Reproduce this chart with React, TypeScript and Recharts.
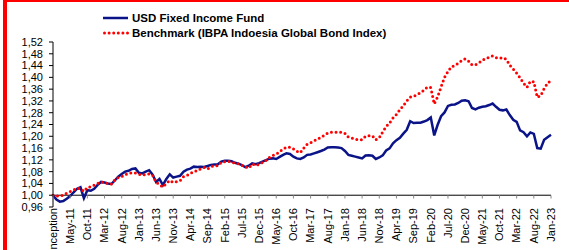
import { LineChart, Line, XAxis, YAxis, ReferenceLine } from "recharts";

const tickLabels = [
  "Inception", "May-11", "Oct-11", "Mar-12", "Aug-12", "Jan-13", "Jun-13", "Nov-13",
  "Apr-14", "Sep-14", "Feb-15", "Jul-15", "Dec-15", "May-16", "Oct-16", "Mar-17",
  "Aug-17", "Jan-18", "Jun-18", "Nov-18", "Apr-19", "Sep-19", "Feb-20", "Jul-20",
  "Dec-20", "May-21", "Oct-21", "Mar-22", "Aug-22", "Jan-23",
];

const yTicks = [0.96, 1.0, 1.04, 1.08, 1.12, 1.16, 1.2, 1.24, 1.28, 1.32, 1.36, 1.4, 1.44, 1.48, 1.52];

// monthly values, Dec-10 .. Jan-23
const fund = [
  1.0, 0.985, 0.978, 0.98, 0.988, 0.997, 1.01, 1.022, 1.027, 0.99,
  1.017, 1.015, 1.022, 1.035, 1.045, 1.043, 1.04, 1.038, 1.05, 1.063,
  1.072, 1.08, 1.083, 1.089, 1.091, 1.076, 1.074, 1.08, 1.085, 1.07,
  1.045, 1.055, 1.034, 1.055, 1.071, 1.06, 1.063, 1.066, 1.08, 1.087,
  1.09, 1.097, 1.096, 1.097, 1.096, 1.099, 1.103, 1.104, 1.105, 1.114,
  1.117, 1.117, 1.115, 1.11, 1.107, 1.102, 1.095, 1.1, 1.108, 1.105,
  1.109, 1.114, 1.119, 1.124, 1.125, 1.123, 1.13, 1.137, 1.142, 1.14,
  1.131, 1.125, 1.123, 1.128, 1.137, 1.138, 1.142, 1.146, 1.15, 1.155,
  1.162, 1.163, 1.163, 1.162, 1.16, 1.15, 1.137, 1.134, 1.131, 1.128,
  1.125, 1.135, 1.136, 1.134, 1.123, 1.128, 1.135, 1.152, 1.159, 1.176,
  1.187, 1.195, 1.209, 1.222, 1.251, 1.245, 1.246, 1.246, 1.25, 1.255,
  1.264, 1.203, 1.239, 1.268, 1.281, 1.303, 1.307, 1.308, 1.313, 1.321,
  1.322, 1.319, 1.296, 1.291, 1.297, 1.3, 1.302, 1.306, 1.311, 1.3,
  1.29, 1.288, 1.291, 1.272, 1.256, 1.249, 1.22, 1.214, 1.2, 1.213,
  1.208, 1.16, 1.158, 1.188, 1.197, 1.205,
];

const benchmark = [
  1.0, 0.997, 0.998, 1.0, 1.007, 1.012, 1.018, 1.023, 1.022, 1.013,
  1.027, 1.028, 1.034, 1.04, 1.045, 1.043, 1.04, 1.038, 1.052, 1.06,
  1.063, 1.07, 1.074, 1.076, 1.075, 1.071, 1.068, 1.071, 1.072, 1.068,
  1.045, 1.035, 1.028, 1.04, 1.05, 1.043, 1.046, 1.049, 1.063, 1.067,
  1.074, 1.081, 1.083, 1.09, 1.094, 1.089, 1.097, 1.1, 1.1, 1.112,
  1.114, 1.115, 1.112, 1.109, 1.106, 1.101, 1.096, 1.092, 1.106, 1.101,
  1.104, 1.111, 1.118, 1.128, 1.135, 1.139, 1.148, 1.157, 1.163, 1.163,
  1.157, 1.149, 1.144, 1.16, 1.173, 1.178, 1.184, 1.191, 1.196, 1.204,
  1.211, 1.214, 1.214, 1.214, 1.214, 1.21, 1.197, 1.194, 1.19, 1.188,
  1.188, 1.2, 1.202, 1.202, 1.188, 1.195, 1.215, 1.233, 1.245, 1.262,
  1.274, 1.29, 1.304, 1.32, 1.333, 1.336, 1.341, 1.348, 1.356, 1.367,
  1.365, 1.31, 1.334, 1.368, 1.4, 1.42, 1.436, 1.44, 1.448, 1.457,
  1.463, 1.455, 1.442, 1.443, 1.449, 1.458, 1.464, 1.468, 1.473, 1.467,
  1.465, 1.467, 1.461, 1.441, 1.428, 1.414, 1.398, 1.38, 1.366, 1.387,
  1.385, 1.332, 1.338, 1.362, 1.38, 1.39,
];

const data = fund.map((v, i) => ({ m: i, fund: v, benchmark: benchmark[i] }));
const xTicks = tickLabels.map((_, i) => i * 5);

const font = "'Liberation Sans', Arial, sans-serif";

function MonthTick(props: any) {
  const { x, y, payload } = props;
  const label = tickLabels[payload.value / 5];
  return (
    <g>
      <line x1={x} x2={x} y1={y - 11.7} y2={y - 8.5} stroke="#888" strokeWidth={1} />
      <text
        x={x}
        y={y + 1}
        transform={`rotate(-90, ${x}, ${y + 1})`}
        textAnchor="end"
        dy="0.35em"
        fontSize={11}
        fontFamily={font}
        fill="#000"
      >
        {label}
      </text>
    </g>
  );
}

export default function App() {
  return (
    <div style={{ position: "absolute", left: 0, top: 0, width: 569, height: 250, overflow: "hidden", background: "#fff" }}>
      <div
        style={{
          position: "absolute",
          left: 3,
          top: 0,
          width: 580,
          height: 260,
          borderLeft: "4px solid #ff0000",
          borderTop: "2px solid #ff0000",
        }}
      />
      <LineChart width={569} height={250} data={data} margin={{ top: 42, right: 18, bottom: 0, left: 0 }}>
        <XAxis
          dataKey="m"
          type="number"
          domain={[0, 145]}
          ticks={xTicks}
          interval={0}
          axisLine={false}
          tickLine={false}
          tickSize={0}
          tickMargin={0}
          height={43}
          tick={<MonthTick />}
        />
        <YAxis
          domain={[0.96, 1.52]}
          ticks={yTicks}
          interval={0}
          width={53}
          tickSize={4}
          tickMargin={6}
          axisLine={{ stroke: "#000" }}
          tickLine={{ stroke: "#000" }}
          tick={{ fill: "#000", fontSize: 11, fontFamily: font }}
          tickFormatter={(v: number) => v.toFixed(2).replace(".", ",")}
        />
        <ReferenceLine y={1} stroke="#000" strokeWidth={1} />
        <Line
          dataKey="fund"
          stroke="#0a1488"
          strokeWidth={2.5}
          dot={false}
          isAnimationActive={false}
        />
        <Line
          dataKey="benchmark"
          stroke="#ff0000"
          strokeWidth={3}
          strokeDasharray="0 4.6"
          strokeLinecap="round"
          dot={false}
          isAnimationActive={false}
        />
      </LineChart>
      <div style={{ position: "absolute", left: 103, top: 11, fontFamily: font, fontWeight: "bold", fontSize: 11.5, color: "#000", lineHeight: "14px" }}>
        <div style={{ display: "flex", alignItems: "center", height: 14 }}>
          <svg width={26} height={6} style={{ marginRight: 3 }}>
            <line x1={0} x2={25} y1={3} y2={3} stroke="#0a1488" strokeWidth={2.5} />
          </svg>
          USD Fixed Income Fund
        </div>
        <div style={{ display: "flex", alignItems: "center", height: 14, marginTop: 1 }}>
          <svg width={26} height={6} style={{ marginRight: 3 }}>
            <line x1={1.5} x2={25} y1={3} y2={3} stroke="#ff0000" strokeWidth={3} strokeDasharray="0 4.6" strokeLinecap="round" />
          </svg>
          Benchmark (IBPA Indoesia Global Bond Index)
        </div>
      </div>
    </div>
  );
}
